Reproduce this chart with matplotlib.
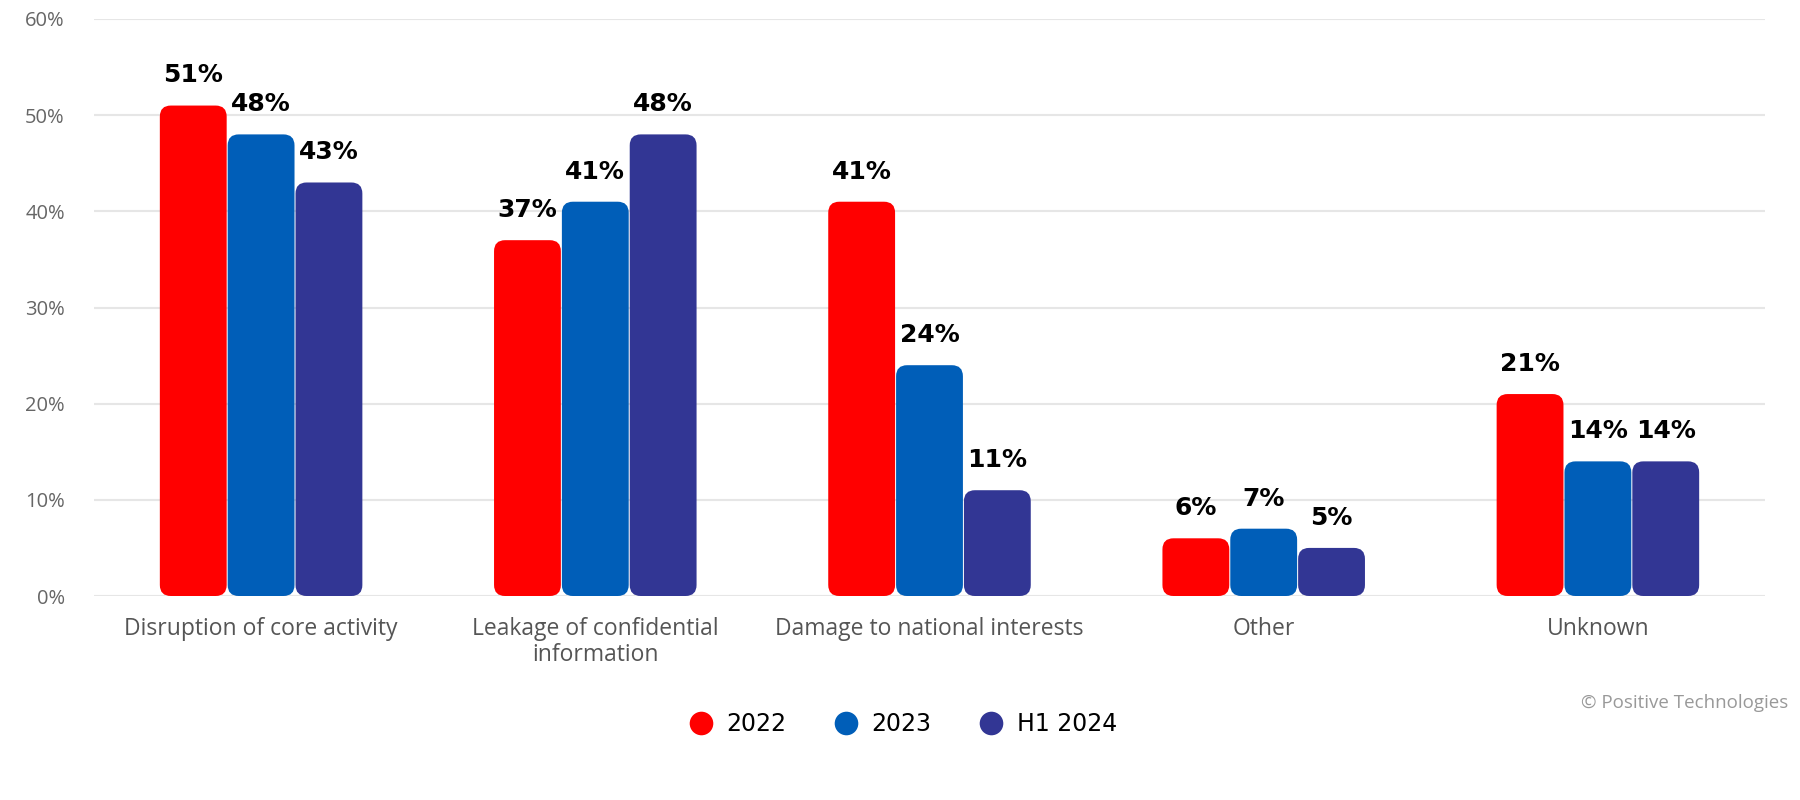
import matplotlib.pyplot as plt
from matplotlib.lines import Line2D
from matplotlib.patches import FancyBboxPatch
import numpy as np

categories = [
    "Disruption of core activity",
    "Leakage of confidential\ninformation",
    "Damage to national interests",
    "Other",
    "Unknown",
]
series_names = ["2022", "2023", "H1 2024"]
values_2022 = [51, 37, 41, 6, 21]
values_2023 = [48, 41, 24, 7, 14]
values_h1_2024 = [43, 48, 11, 5, 14]
y_ticks = [0, 10, 20, 30, 40, 50, 60]

COLORS = ["#FF0000", "#005EB8", "#323694"]
W, H = 18, 8
AX_POS = [94 / 1800, 1 - 596 / 800, (1765 - 94) / 1800, (596 - 19) / 800]
YMAX = 60
XLIM = (-0.5, len(categories) - 0.5)

fig = plt.figure(figsize=(W, H), dpi=100)
ax = fig.add_axes(AX_POS)
ax.set_xlim(*XLIM)
ax.set_ylim(0, YMAX)

# data units per pixel, so the rounded corners stay circular
px_w = AX_POS[2] * W * 100
px_h = AX_POS[3] * H * 100
x_per_px = (XLIM[1] - XLIM[0]) / px_w
y_per_px = YMAX / px_h
aspect = y_per_px / x_per_px
radius = 11 * x_per_px

step = 0.203
width = 0.2
x = np.arange(len(categories))
for k, (vals, color) in enumerate(zip([values_2022, values_2023, values_h1_2024], COLORS)):
    centers = x + (k - 1) * step
    for cx, v in zip(centers, vals):
        patch = FancyBboxPatch(
            (cx - width / 2, 0), width, v,
            boxstyle=f"round,pad=0,rounding_size={radius}",
            mutation_aspect=aspect,
            facecolor=color, edgecolor="none", zorder=3,
        )
        ax.add_patch(patch)
        ax.annotate(
            f"{v}%", (cx, v), xytext=(0, 13), textcoords="offset points",
            ha="center", va="bottom", fontsize=18, fontweight="bold",
            color="black", family="DejaVu Sans", zorder=4,
        )

ax.set_yticks(y_ticks)
ax.set_yticklabels([f"{t}%" for t in y_ticks], fontsize=14.5, color="#666666", family="Open Sans")
ax.set_xticks(x)
ax.set_xticklabels(categories, fontsize=16.5, color="#555555", family="Open Sans", linespacing=1.1)
ax.tick_params(axis="y", length=0, pad=21)
ax.tick_params(axis="x", length=0, pad=15)
for s in ax.spines.values():
    s.set_visible(False)
ax.grid(axis="y", color="#E6E6E6", linewidth=1.5, zorder=0)
ax.set_axisbelow(True)

handles = [
    Line2D([], [], linestyle="none", marker="o", markersize=17, markerfacecolor=c, markeredgecolor="none")
    for c in COLORS
]
fig.legend(
    handles, series_names, loc="center", bbox_to_anchor=(0.5, 1 - 724 / 800), ncol=3,
    frameon=False, prop={"family": "DejaVu Sans", "size": 17},
    handletextpad=0.35, columnspacing=1.75, handlelength=1.5,
)

fig.text(1788 / 1800, 1 - 703 / 800, "© Positive Technologies", ha="right", va="center",
         fontsize=13.5, color="#999999", family="Open Sans")

fig.savefig("out.png", dpi=100)
